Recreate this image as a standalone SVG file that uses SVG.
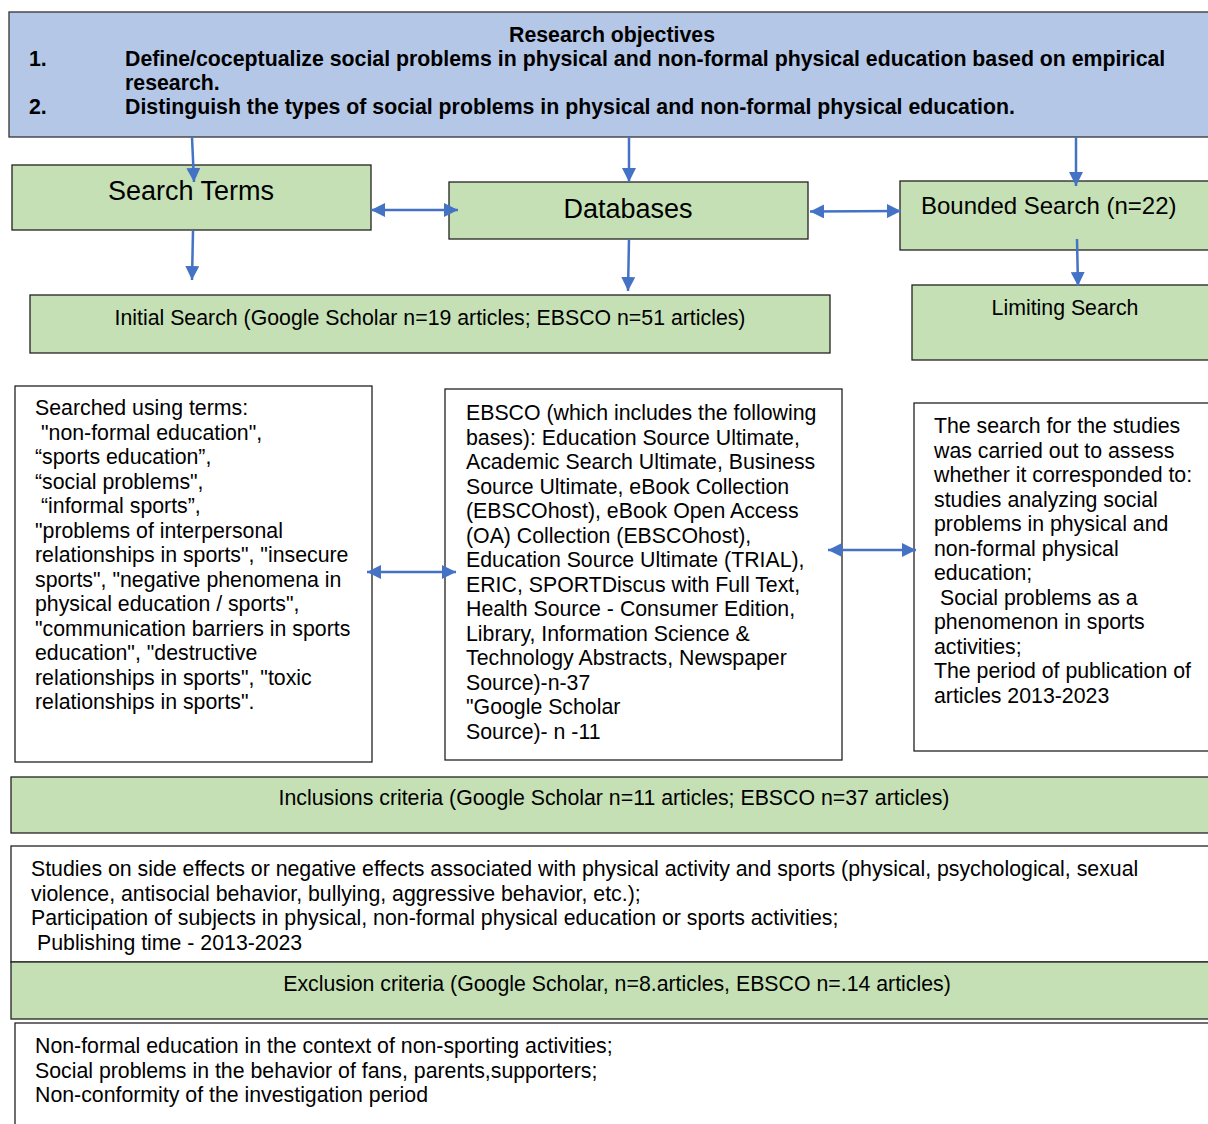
<svg xmlns="http://www.w3.org/2000/svg" width="1208" height="1124" viewBox="0 0 1208 1124">
<defs>
<style>
.t{font-family:"Liberation Sans",Arial,sans-serif;fill:#000}
.b{font-size:21.3px}
.h{font-size:21.3px;font-weight:bold}
.g{fill:#c5e0b4;stroke:#222;stroke-width:1.3}
.w{fill:#fff;stroke:#222;stroke-width:1.3}
.c{stroke:#4472c4;stroke-width:2.5;fill:none}
</style>
<marker id="ah" viewBox="0 0 10 10" refX="10" refY="5" markerWidth="5.6" markerHeight="5.6" orient="auto-start-reverse" markerUnits="strokeWidth">
<path d="M0,0 L10,5 L0,10 Z" fill="#4472c4"/>
</marker>
</defs>
<rect width="1208" height="1124" fill="#fff"/>
<g id="objectives">
<rect x="9" y="12" width="1210" height="125" fill="#b4c7e7" stroke="#333" stroke-width="1.3"/>
<text class="t h" x="612" y="42" text-anchor="middle">Research objectives</text>
<text class="t h" x="29" y="66">1.</text>
<text class="t h" x="125" y="66">Define/coceptualize social problems in physical and non-formal physical education based on empirical</text>
<text class="t h" x="125" y="90">research.</text>
<text class="t h" x="29" y="114">2.</text>
<text class="t h" x="125" y="114">Distinguish the types of social problems in physical and non-formal physical education.</text>
</g>
<g id="search-terms">
<rect class="g" x="12" y="165" width="359" height="65"/>
<text class="t" x="191" y="200" font-size="27" text-anchor="middle">Search Terms</text>
</g>
<g id="databases">
<rect class="g" x="449" y="182" width="359" height="57"/>
<text class="t" x="628" y="218" font-size="27" text-anchor="middle">Databases</text>
</g>
<g id="bounded-search">
<rect class="g" x="900" y="181" width="320" height="69"/>
<text class="t" x="921" y="214" font-size="24">Bounded Search (n=22)</text>
</g>
<g id="initial-search">
<rect class="g" x="30" y="295" width="800" height="58"/>
<text class="t b" x="430" y="325" text-anchor="middle">Initial Search (Google Scholar n=19 articles; EBSCO n=51 articles)</text>
</g>
<g id="limiting-search">
<rect class="g" x="912" y="285" width="308" height="75"/>
<text class="t b" x="1065" y="315" text-anchor="middle">Limiting Search</text>
</g>
<g id="terms-detail">
<rect class="w" x="15" y="386" width="357" height="376"/>
<text class="t b">
<tspan x="35" y="415">Searched using terms:</tspan>
<tspan x="41" y="439.5">"non-formal education",</tspan>
<tspan x="35" y="464">“sports education”,</tspan>
<tspan x="35" y="488.5">“social problems",</tspan>
<tspan x="41" y="513">“informal sports”,</tspan>
<tspan x="35" y="537.5">"problems of interpersonal</tspan>
<tspan x="35" y="562">relationships in sports", "insecure</tspan>
<tspan x="35" y="586.5">sports", "negative phenomena in</tspan>
<tspan x="35" y="611">physical education / sports",</tspan>
<tspan x="35" y="635.5">"communication barriers in sports</tspan>
<tspan x="35" y="660">education", "destructive</tspan>
<tspan x="35" y="684.5">relationships in sports", "toxic</tspan>
<tspan x="35" y="709">relationships in sports".</tspan>
</text>
</g>
<g id="databases-detail">
<rect class="w" x="445" y="389" width="397" height="371"/>
<text class="t b">
<tspan x="466" y="420">EBSCO (which includes the following</tspan>
<tspan x="466" y="444.5">bases): Education Source Ultimate,</tspan>
<tspan x="466" y="469">Academic Search Ultimate, Business</tspan>
<tspan x="466" y="493.5">Source Ultimate, eBook Collection</tspan>
<tspan x="466" y="518">(EBSCOhost), eBook Open Access</tspan>
<tspan x="466" y="542.5">(OA) Collection (EBSCOhost),</tspan>
<tspan x="466" y="567">Education Source Ultimate (TRIAL),</tspan>
<tspan x="466" y="591.5">ERIC, SPORTDiscus with Full Text,</tspan>
<tspan x="466" y="616">Health Source - Consumer Edition,</tspan>
<tspan x="466" y="640.5">Library, Information Science &amp;</tspan>
<tspan x="466" y="665">Technology Abstracts, Newspaper</tspan>
<tspan x="466" y="689.5">Source)-n-37</tspan>
<tspan x="466" y="714">"Google Scholar</tspan>
<tspan x="466" y="738.5">Source)- n -11</tspan>
</text>
</g>
<g id="limiting-detail">
<rect class="w" x="914" y="403" width="306" height="348"/>
<text class="t b">
<tspan x="934" y="433">The search for the studies</tspan>
<tspan x="934" y="457.5">was carried out to assess</tspan>
<tspan x="934" y="482">whether it corresponded to:</tspan>
<tspan x="934" y="506.5">studies analyzing social</tspan>
<tspan x="934" y="531">problems in physical and</tspan>
<tspan x="934" y="555.5">non-formal physical</tspan>
<tspan x="934" y="580">education;</tspan>
<tspan x="940" y="604.5">Social problems as a</tspan>
<tspan x="934" y="629">phenomenon in sports</tspan>
<tspan x="934" y="653.5">activities;</tspan>
<tspan x="934" y="678">The period of publication of</tspan>
<tspan x="934" y="702.5">articles 2013-2023</tspan>
</text>
</g>
<g id="inclusion">
<rect class="g" x="11" y="777" width="1209" height="56"/>
<text class="t b" x="614" y="805" text-anchor="middle">Inclusions criteria (Google Scholar n=11 articles; EBSCO n=37 articles)</text>
</g>
<g id="inclusion-detail">
<rect class="w" x="11" y="846" width="1209" height="116"/>
<text class="t b">
<tspan x="31" y="876">Studies on side effects or negative effects associated with physical activity and sports (physical, psychological, sexual</tspan>
<tspan x="31" y="900.5">violence, antisocial behavior, bullying, aggressive behavior, etc.);</tspan>
<tspan x="31" y="925">Participation of subjects in physical, non-formal physical education or sports activities;</tspan>
<tspan x="37" y="949.5">Publishing time - 2013-2023</tspan>
</text>
</g>
<g id="exclusion">
<rect class="g" x="11" y="962" width="1209" height="57"/>
<text class="t b" x="617" y="991" text-anchor="middle">Exclusion criteria (Google Scholar, n=8.articles, EBSCO n=.14 articles)</text>
</g>
<g id="exclusion-detail">
<rect class="w" x="15" y="1023" width="1205" height="120"/>
<text class="t b">
<tspan x="35" y="1053">Non-formal education in the context of non-sporting activities;</tspan>
<tspan x="35" y="1077.5">Social problems in the behavior of fans, parents,supporters;</tspan>
<tspan x="35" y="1102">Non-conformity of the investigation period</tspan>
</text>
</g>
<g id="connectors">
<line class="c" x1="192" y1="137" x2="194" y2="182" marker-end="url(#ah)"/>
<line class="c" x1="629" y1="137" x2="629" y2="182" marker-end="url(#ah)"/>
<line class="c" x1="1076" y1="137" x2="1076" y2="186" marker-end="url(#ah)"/>
<line class="c" x1="193" y1="231" x2="192" y2="280" marker-end="url(#ah)"/>
<line class="c" x1="629" y1="239" x2="628" y2="291" marker-end="url(#ah)"/>
<line class="c" x1="1077" y1="239" x2="1078" y2="286" marker-end="url(#ah)"/>
<line class="c" x1="371" y1="210" x2="458" y2="210" marker-start="url(#ah)" marker-end="url(#ah)"/>
<line class="c" x1="810" y1="211.5" x2="901" y2="211" marker-start="url(#ah)" marker-end="url(#ah)"/>
<line class="c" x1="367" y1="572" x2="456" y2="572" marker-start="url(#ah)" marker-end="url(#ah)"/>
<line class="c" x1="828" y1="550" x2="916" y2="550" marker-start="url(#ah)" marker-end="url(#ah)"/>
</g>
</svg>
